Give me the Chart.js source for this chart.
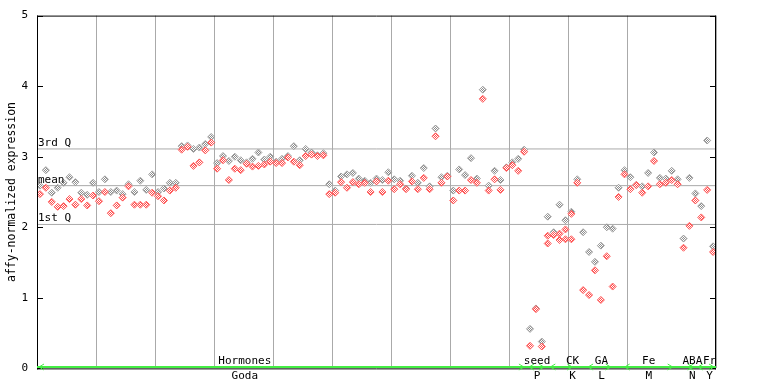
<!DOCTYPE html>
<html><head><meta charset="utf-8">
<script src="https://cdn.jsdelivr.net/npm/chart.js@4/dist/chart.umd.min.js"></script>
<style>html,body{margin:0;padding:0;background:#fff}canvas{display:block}</style>
</head><body>
<canvas id="c" width="768" height="384"></canvas>
<script>
// per-sample values (index = sample position)
const seriesA = [2.59,2.81,2.49,2.56,2.63,2.71,2.64,2.49,2.46,2.63,2.50,2.68,2.50,2.52,2.47,2.61,2.50,2.66,2.53,2.75,2.50,2.55,2.63,2.63,3.15,3.16,3.11,3.13,3.18,3.28,2.91,3.01,2.94,3.00,2.95,2.92,2.97,3.06,2.96,3.00,2.93,2.97,3.01,3.15,2.95,3.11,3.06,3.02,3.05,2.61,2.52,2.72,2.75,2.77,2.69,2.66,2.63,2.69,2.67,2.78,2.68,2.66,2.55,2.73,2.63,2.84,2.58,3.40,2.71,2.73,2.52,2.82,2.74,2.98,2.69,3.95,2.59,2.80,2.67,2.85,2.92,2.97,3.10,0.56,0.85,0.38,2.15,1.93,2.32,2.10,2.22,2.68,1.93,1.65,1.51,1.74,2.00,1.98,2.56,2.81,2.71,2.60,2.58,2.77,3.06,2.70,2.69,2.80,2.68,1.84,2.70,2.48,2.30,3.23,1.73];
const seriesB = [2.47,2.56,2.36,2.29,2.30,2.40,2.32,2.40,2.31,2.45,2.37,2.50,2.20,2.31,2.42,2.58,2.32,2.32,2.32,2.49,2.44,2.38,2.52,2.56,3.10,3.14,2.87,2.92,3.09,3.20,2.83,2.95,2.67,2.83,2.81,2.90,2.86,2.87,2.89,2.93,2.91,2.91,2.99,2.93,2.88,3.01,3.03,3.01,3.02,2.47,2.49,2.64,2.56,2.64,2.61,2.63,2.50,2.65,2.50,2.66,2.54,2.61,2.54,2.65,2.54,2.70,2.54,3.29,2.63,2.72,2.38,2.52,2.52,2.67,2.63,3.82,2.52,2.68,2.53,2.84,2.88,2.80,3.07,0.32,0.84,0.31,1.88,1.89,1.91,1.97,2.19,2.63,1.11,1.04,1.39,0.97,1.59,1.16,2.43,2.75,2.54,2.60,2.49,2.58,2.94,2.61,2.63,2.67,2.61,1.71,2.02,2.38,2.14,2.53,1.65];
const seriesC = {86:1.77, 88:1.82, 89:1.83, 90:1.83};
const yTicks = [0,1,2,3,4,5];
const quartileValues = [3.11, 2.59, 2.04];
const quartileLabels = ['3rd Q', 'mean', '1st Q'];
const groupNames = ['Hormones','seed','CK','GA','Fe','ABA','Fr'];
const groupSubs  = ['Goda','P','K','L','M','N','Y'];
const groupLabelPos = [35.2, 84.7, 90.7, 95.6, 103.6, 111.0, 113.9];
const groupRanges = [[0,82.8],[83,86.2],[86.6,91],[93,97.5],[99.2,108],[110,111.4],[111.6,115]];
const nSamples = 115;

const toPts = arr => arr.map((v,i)=>({x:i+0.5,y:v}));
const mono = '"DejaVu Sans Mono", monospace';

function checker(color){
  const c=document.createElement('canvas'); c.width=2; c.height=2;
  const g=c.getContext('2d'); g.fillStyle='#fff'; g.fillRect(0,0,2,2);
  g.fillStyle=color; g.fillRect(0,0,1,1); g.fillRect(1,1,1,1);
  return document.getElementById('c').getContext('2d').createPattern(c,'repeat');
}

const decor = {
  id:'decor',
  afterDraw(chart){
    const {ctx, chartArea:a, scales:{x,y}} = chart;
    ctx.save();
    ctx.fillStyle='#000'; ctx.font='11px '+mono; ctx.textAlign='left'; ctx.textBaseline='alphabetic';
    quartileValues.forEach((q,i)=>{ ctx.fillText(quartileLabels[i], a.left+1, Math.round(y.getPixelForValue(q))-3); });
    ctx.strokeStyle='#000'; ctx.lineWidth=1;
    ctx.beginPath();
    ctx.moveTo(a.left+0.5,a.top); ctx.lineTo(a.left+0.5,a.bottom+1);
    ctx.moveTo(a.right-0.5,a.top); ctx.lineTo(a.right-0.5,a.bottom+1);
    ctx.moveTo(a.left,a.top+0.5); ctx.lineTo(a.right,a.top+0.5);
    ctx.moveTo(a.left,a.bottom+0.5); ctx.lineTo(a.right,a.bottom+0.5);
    yTicks.forEach(t=>{
      const py=Math.round(y.getPixelForValue(t))+0.5;
      ctx.moveTo(a.left,py); ctx.lineTo(a.left+6,py);
      ctx.moveTo(a.right,py); ctx.lineTo(a.right-6,py);
    });
    ctx.stroke();
    const gy = Math.round(y.getPixelForValue(0))-1;
    ctx.strokeStyle='#44ee44'; ctx.lineWidth=2;
    ctx.beginPath(); ctx.moveTo(a.left,gy); ctx.lineTo(a.right,gy); ctx.stroke();
    ctx.lineWidth=1;
    ctx.beginPath();
    groupRanges.forEach(([s,e])=>{
      const xs=x.getPixelForValue(s)+2, xe=x.getPixelForValue(e)-2;
      ctx.moveTo(xs+5,gy-3); ctx.lineTo(xs,gy); ctx.lineTo(xs+5,gy+3);
      ctx.moveTo(xe-5,gy-3); ctx.lineTo(xe,gy); ctx.lineTo(xe-5,gy+3);
    });
    ctx.stroke();
    ctx.fillStyle='#000'; ctx.font='11px '+mono; ctx.textAlign='center';
    groupNames.forEach((n,i)=>{
      const px=x.getPixelForValue(groupLabelPos[i]);
      ctx.fillText(n, px, gy-3);
      ctx.fillText(groupSubs[i], px, gy+12);
    });
    ctx.restore();
  }
};

const ptRed = {pointStyle:'rectRot', pointRadius:3.5, pointBorderWidth:1, pointBorderColor:'rgb(255,90,90)', pointBackgroundColor:checker('rgb(255,80,80)')};
const ptGray = {pointStyle:'rectRot', pointRadius:3.5, pointBorderWidth:1, pointBorderColor:'rgb(160,160,160)', pointBackgroundColor:checker('rgb(140,140,140)')};

const datasets = [
  {label:'A', data:toPts(seriesA), showLine:false, order:1, ...ptGray},
  {label:'B', data:toPts(seriesB), showLine:false, order:0, ...ptRed},
  {label:'C', data:Object.entries(seriesC).map(([k,v])=>({x:+k+0.5,y:v})), showLine:false, order:0, ...ptRed},
];
quartileValues.forEach(q=>datasets.push({type:'line', data:[{x:0,y:q},{x:nSamples,y:q}], borderColor:'#aaaaaa', borderWidth:1, pointRadius:0, order:10}));

new Chart(document.getElementById('c'), {
  type:'scatter',
  data:{datasets},
  options:{
    responsive:false, animation:false, devicePixelRatio:1,
    layout:{padding:{left:0, top:13, right:52, bottom:15}},
    plugins:{legend:{display:false}, tooltip:{enabled:false}},
    scales:{
      x:{type:'linear', min:0, max:nSamples, ticks:{display:false, stepSize:10}, border:{display:false},
         grid:{color:'#aaaaaa', lineWidth:1, drawTicks:false}, afterFit:s=>{s.height=0;}},
      y:{type:'linear', min:0, max:5, ticks:{stepSize:1, color:'#000', font:{family:mono, size:11}, padding:9},
         border:{display:false}, grid:{display:false, drawTicks:false},
         title:{display:true, text:'affy-normalized expression', color:'#000', font:{family:mono, size:11.5}, padding:{top:5,bottom:0}},
         afterFit:s=>{s.width=37;}}
    }
  },
  plugins:[decor]
});
</script>
</body></html>
